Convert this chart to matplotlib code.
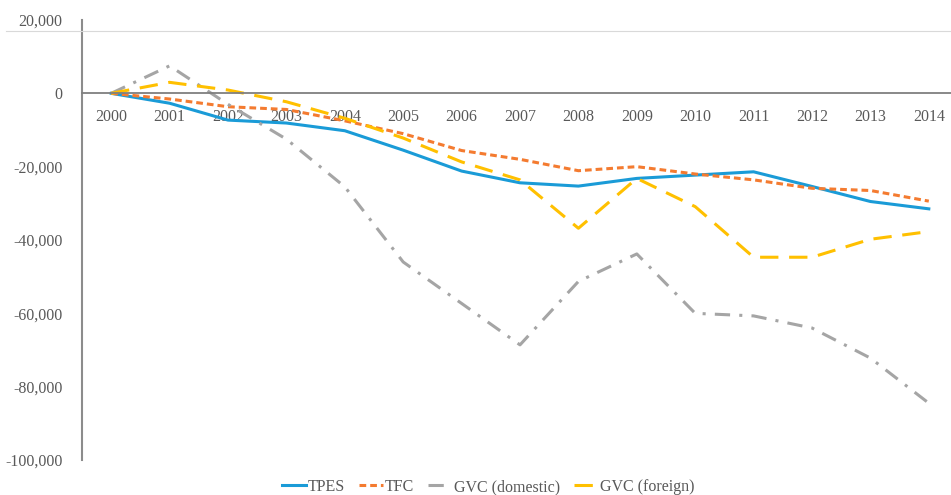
import matplotlib
matplotlib.use("Agg")
import matplotlib.pyplot as plt
from matplotlib.lines import Line2D
from matplotlib.ticker import FuncFormatter

years = ["2000", "2001", "2002", "2003", "2004", "2005", "2006", "2007",
         "2008", "2009", "2010", "2011", "2012", "2013", "2014"]
tpes = [0, -2700, -7300, -8100, -10200, -15500, -21200, -24400,
        -25300, -23200, -22300, -21400, -25400, -29500, -31500]
tfc = [0, -1550, -3650, -4400, -7500, -11000, -15600, -18000,
       -21100, -20000, -22000, -23600, -25900, -26500, -29400]
gvc_dom = [0, 7500, -3000, -12500, -25500, -46000, -57300, -68600,
           -51300, -43800, -60000, -60700, -64000, -72200, -84500]
gvc_for = [0, 3000, 900, -2300, -6800, -12200, -18700, -23600,
           -36800, -23200, -30900, -44700, -44700, -39800, -37700]

plt.rcParams['font.family'] = ['Liberation Serif', 'DejaVu Serif']
txt = "#595959"

fig = plt.figure(figsize=(9.51, 4.95), dpi=100)
ax = fig.add_axes([82 / 951, 35 / 495, 1 - 82 / 951, 440 / 495])

x = range(len(years))
ax.plot(x, tpes, color="#1A9BD7", lw=2.2, label="TPES")
ax.plot(x, tfc, color="#F47B30", lw=2.2, dashes=(2.2, 1.3), label="TFC")
ax.plot(x, gvc_dom, color="#A5A5A5", lw=2.2, dashes=(5, 3, 1, 3), label="GVC (domestic)")
ax.plot(x, gvc_for, color="#FFC000", lw=2.2, dashes=(6, 3.5), label="GVC (foreign)")

ax.set_xlim(-0.5, 14.38)
ax.set_ylim(-100000, 20000)
ax.set_yticks(range(-100000, 20001, 20000))
ax.yaxis.set_major_formatter(FuncFormatter(lambda v, p: f"{int(v):,}"))
ax.set_xticks(list(x))
ax.set_xticklabels(years)

for s in ["top", "right"]:
    ax.spines[s].set_visible(False)
ax.spines["bottom"].set_position(("data", 0))
ax.spines["bottom"].set_color("#7f7f7f")
ax.spines["bottom"].set_linewidth(1.3)
ax.spines["left"].set_color("#8c8c8c")
ax.spines["left"].set_linewidth(1.5)
ax.tick_params(axis="x", length=0, pad=11, labelsize=11.5, labelcolor=txt)
ax.tick_params(axis="y", length=0, pad=14, labelsize=11.5, labelcolor=txt)

fig.add_artist(Line2D([6 / 951, 1], [1 - 31 / 495, 1 - 31 / 495],
                      color="#d9d9d9", lw=0.8))

fig.legend(loc="center", bbox_to_anchor=(488 / 951, 1 - 487 / 495),
           ncol=4, frameon=False, fontsize=11.5, labelcolor=txt,
           handlelength=1.5, handletextpad=0.1, columnspacing=0.9,
           borderpad=0, borderaxespad=0)

fig.savefig("out.png", dpi=100)
